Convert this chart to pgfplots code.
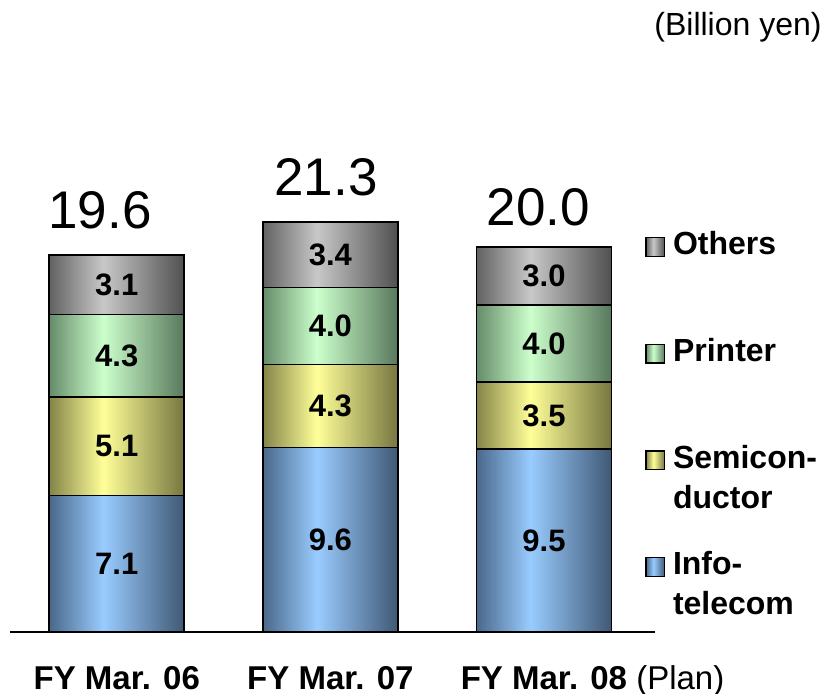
\documentclass[border=0pt]{standalone}
\usepackage{pgfplots}
\pgfplotsset{compat=1.18}
\usepackage{fontspec}
\setmainfont{Liberation Sans}

\definecolor{infoA}{RGB}{74,104,138}
\definecolor{infoB}{RGB}{153,204,255}
\definecolor{infoC}{RGB}{64,88,116}
\definecolor{semiA}{RGB}{132,132,72}
\definecolor{semiB}{RGB}{255,255,153}
\definecolor{semiC}{RGB}{118,118,64}
\definecolor{prnA}{RGB}{102,140,106}
\definecolor{prnB}{RGB}{204,255,204}
\definecolor{prnC}{RGB}{88,120,92}
\definecolor{othA}{RGB}{98,98,98}
\definecolor{othB}{RGB}{200,200,200}
\definecolor{othC}{RGB}{80,80,80}

\pgfdeclarehorizontalshading{infoS}{100bp}{color(0bp)=(infoA); color(25bp)=(infoA); color(45bp)=(infoB); color(75bp)=(infoC); color(100bp)=(infoC)}
\pgfdeclarehorizontalshading{semiS}{100bp}{color(0bp)=(semiA); color(25bp)=(semiA); color(45bp)=(semiB); color(75bp)=(semiC); color(100bp)=(semiC)}
\pgfdeclarehorizontalshading{prnS}{100bp}{color(0bp)=(prnA); color(25bp)=(prnA); color(45bp)=(prnB); color(75bp)=(prnC); color(100bp)=(prnC)}
\pgfdeclarehorizontalshading{othS}{100bp}{color(0bp)=(othA); color(25bp)=(othA); color(45bp)=(othB); color(75bp)=(othC); color(100bp)=(othC)}

\pgfplotsset{
  frame/.style={
    scale only axis, width=322.5pt, height=240.5pt,
    xmin=-0.5, xmax=2.52, ymin=0, ymax=25,
    at={(5pt,-316pt)}, anchor=south west,
    /pgf/number format/assume math mode=true,
  },
  bars/.style={
    ybar stacked, bar width=67.5pt,
    nodes near coords={\pgfmathprintnumber[fixed,fixed zerofill,precision=1]{\pgfplotspointmeta}},
    every node near coord/.style={anchor=center, black,
      font=\bfseries\fontsize{15.5}{18}\selectfont},
  },
  info/.style={draw=black, line width=0.8pt, shading=infoS},
  semi/.style={draw=black, line width=0.8pt, shading=semiS},
  prn/.style={draw=black, line width=0.8pt, shading=prnS},
  oth/.style={draw=black, line width=0.8pt, shading=othS},
  total/.style={draw=none, mark=none, forget plot,
    nodes near coords={\pgfmathprintnumber[fixed,fixed zerofill,precision=1]{\pgfplotspointmeta}},
    every node near coord/.style={anchor=base, black, font=\fontsize{26.5}{31}\selectfont, #1}},
}
\newcommand\lentry[1]{\smash{\begin{tabular}[t]{@{}l@{}}#1\end{tabular}}}

\begin{document}
\begin{tikzpicture}
\path[use as bounding box] (0pt,0pt) rectangle (412.5pt,-346.5pt);

\begin{axis}[frame, bars,
  axis x line=bottom, axis y line=none, ytick=\empty,
  axis line style={-, line width=1pt},
  every outer x axis line/.append style={-},
  xtick={0,1,2},
  xticklabels={FY Mar. 06, FY Mar. 07, FY Mar. 08\rlap{ \mdseries(Plan)}},
  major tick length=0pt,
  xticklabel style={anchor=base, yshift=-28.5pt, font=\bfseries\fontsize{16.5}{19}\selectfont},
  legend style={draw=none, fill=none, at={(axis description cs:0.9845,0.822)}, anchor=north west,
    row sep=41pt, inner sep=0pt, font=\bfseries\fontsize{16}{20}\selectfont},
  legend cell align=left,
  reverse legend,
  legend image code/.code={\draw[#1,draw=black,line width=0.6pt] (-0.3pt,0pt) rectangle (9pt,9.3pt); \path (10.8pt,0pt);},
]
\addplot[info] coordinates {(0,7.1)};
\addlegendentry{\lentry{Info-\\telecom}}
\addplot[semi] coordinates {(0,5.1)};
\addlegendentry{\lentry{Semicon-\\ductor}}
\addplot[prn] coordinates {(0,4.3)};
\addlegendentry{\lentry{Printer}}
\addplot[oth] coordinates {(0,3.1)};
\addlegendentry{\lentry{Others}}
\end{axis}

\begin{axis}[frame, bars, hide axis]
\addplot[info] coordinates {(1,9.6)};
\addplot[semi] coordinates {(1,4.3)};
\addplot[prn] coordinates {(1,4.0)};
\addplot[oth] coordinates {(1,3.4)};
\end{axis}

\begin{axis}[frame, bars, hide axis]
\addplot[info] coordinates {(2,9.5)};
\addplot[semi] coordinates {(2,3.5)};
\addplot[prn] coordinates {(2,4.0)};
\addplot[oth] coordinates {(2,3.0)};
\end{axis}

\begin{axis}[frame, hide axis]
\addplot[total={xshift=-8.4pt, yshift=13.3pt}] coordinates {(0,19.6)};
\addplot[total={xshift=-2.2pt, yshift=13.3pt}] coordinates {(1,21.3)};
\addplot[total={xshift=-2.8pt, yshift=10.8pt}] coordinates {(2,20.0)};
\end{axis}

\node[anchor=base east, inner sep=0pt, font=\fontsize{16}{19}\selectfont] at (411pt,-17.5pt) {(Billion yen)};
\end{tikzpicture}
\end{document}
